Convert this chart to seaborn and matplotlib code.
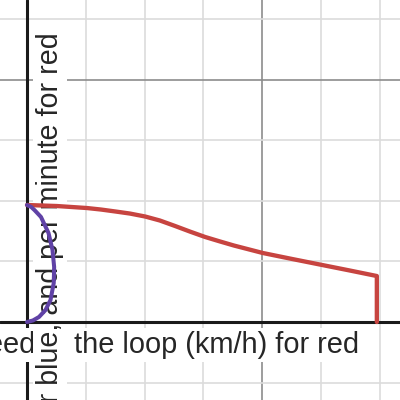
import numpy as np
import pandas as pd
import seaborn as sns
import matplotlib
matplotlib.use("Agg")
import matplotlib.pyplot as plt

# red: value per minute against speed in the loop
red_speed = [0, 0.51, 1.02, 1.26, 1.51, 1.75, 2.01, 2.26, 2.52, 2.77, 3.03, 3.28,
             3.52, 4.01, 4.51, 5.02, 5.49, 5.95, 5.95]
red_value = [1.931, 1.914, 1.881, 1.856, 1.823, 1.79, 1.741, 1.675, 1.584, 1.493,
             1.403, 1.33, 1.262, 1.139, 1.04, 0.941, 0.85, 0.759, 0.0]

# blue (drawn purple): half loop next to the y axis
blue_x = [0.0, 0.07, 0.13, 0.238, 0.366, 0.434, 0.462, 0.455, 0.4, 0.315, 0.204, 0.1, 0.0]
blue_y = [1.931, 1.9, 1.845, 1.733, 1.469, 1.188, 0.908, 0.643, 0.363, 0.198, 0.083, 0.025, 0.0]

x_label = "Speed before the loop (km/h) for blue, speed in the loop (km/h) for red"
y_label = "Rotations per second for blue, and per minute for red"

x_lim = (-0.459, 6.344)
y_lim = (-1.287, 5.314)

sns.set_theme(style="white")
plt.rcParams["font.family"] = ["Liberation Sans", "DejaVu Sans"]

fig = plt.figure(figsize=(4, 4), dpi=100)
ax = fig.add_axes([0, 0, 1, 1])
ax.set_xlim(*x_lim)
ax.set_ylim(*y_lim)
for s in ax.spines.values():
    s.set_visible(False)
ax.set_xticks([])
ax.set_yticks([])

# grid, darker every fourth line
for gx in range(-1, 8):
    if gx == 0:
        continue
    c = "#8c8c8c" if gx % 4 == 0 else "#dcdcdc"
    ax.axvline(gx, color=c, lw=1.2, zorder=0.5)
for gy in range(-2, 7):
    if gy == 0:
        continue
    c = "#8c8c8c" if gy % 4 == 0 else "#dcdcdc"
    ax.axhline(gy, color=c, lw=1.2, zorder=0.5)

ax.axvline(0, color="#1a1a1a", lw=2.2, zorder=1)

box = dict(boxstyle="square,pad=0.1", fc="white", ec="none")
ax.text(0.8975, 0.1175, x_label, transform=fig.transFigure, fontsize=20.9,
        ha="right", va="baseline", bbox=box, zorder=3)
ax.text(0.145, 0.92, y_label, transform=fig.transFigure, fontsize=20.6,
        rotation=90, rotation_mode="anchor", ha="right", va="baseline",
        bbox=box, zorder=4)

ax.axhline(0, color="#1a1a1a", lw=2.2, zorder=5)

red = pd.DataFrame({"x": red_speed, "y": red_value})
blue = pd.DataFrame({"x": blue_x, "y": blue_y})
sns.lineplot(data=red, x="x", y="y", sort=False, estimator=None,
             color="#c74440", lw=3.1, ax=ax, zorder=6,
             solid_joinstyle="round", solid_capstyle="round")
sns.lineplot(data=blue, x="x", y="y", sort=False, estimator=None,
             color="#6042a6", lw=2.9, ax=ax, zorder=7,
             solid_joinstyle="round", solid_capstyle="round")
ax.set_xlabel("")
ax.set_ylabel("")

fig.savefig("out.png", dpi=100)
